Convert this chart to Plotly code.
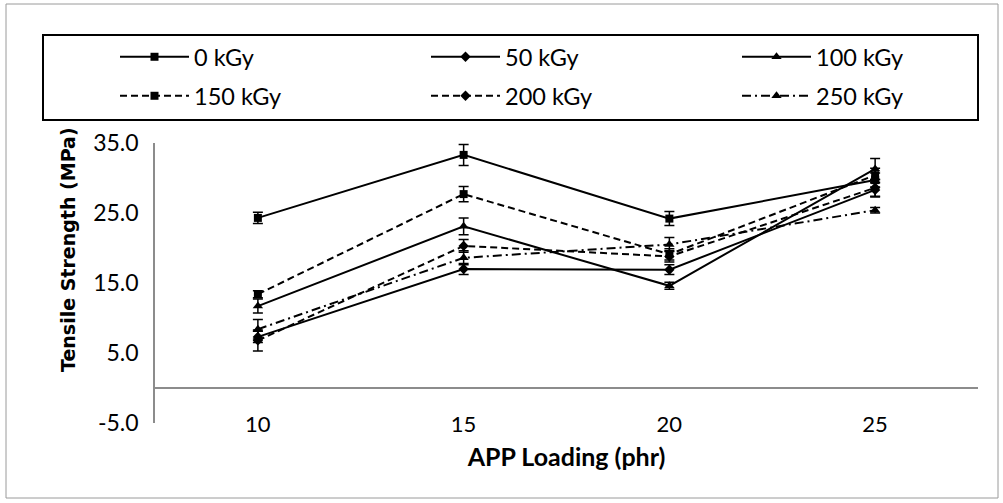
import plotly.graph_objects as go

# ---- data ----
app_loading = [10, 15, 20, 25]
series_names = ["0 kGy", "50 kGy", "100 kGy", "150 kGy", "200 kGy", "250 kGy"]
ts_0 = [24.3, 33.3, 24.2, 29.7]
ts_50 = [7.3, 17.0, 16.9, 28.3]
ts_100 = [11.7, 23.1, 14.6, 31.3]
ts_150 = [13.4, 27.7, 19.1, 30.4]
ts_200 = [6.8, 20.3, 18.8, 28.6]
ts_250 = [8.4, 18.6, 20.5, 25.4]
err_0 = [0.8, 1.5, 1.0, 1.0]
err_50 = [0.8, 0.8, 0.7, 1.0]
err_100 = [1.0, 1.2, 0.5, 1.5]
err_150 = [0.5, 1.1, 0.8, 1.0]
err_200 = [1.5, 0.9, 0.8, 1.2]
err_250 = [1.4, 1.0, 1.0, 0.4]
y_ticks = [-5, 5, 15, 25, 35]

values = [ts_0, ts_50, ts_100, ts_150, ts_200, ts_250]
errors = [err_0, err_50, err_100, err_150, err_200, err_250]
symbols = ["square", "diamond", "triangle-up", "square", "diamond", "triangle-up"]
dashes = ["solid", "solid", "solid", "7px,4px", "7px,4px", "9px,4px,2px,4px"]
msizes = [8, 8, 9, 8, 8, 9]
legend_ids = ["legend", "legend", "legend", "legend2", "legend2", "legend2"]

W, H = 1003, 503
L, R, T, B = 155, 25, 143, 80
pw, ph = W - L - R, H - T - B

def px_x(p):
    return (p - L) / pw

def px_y(p):
    return (H - B - p) / ph

FONT = "Lato, Carlito, Calibri, sans-serif"

fig = go.Figure()
for name, v, e, sym, d, ms, lg in zip(series_names, values, errors, symbols,
                                      dashes, msizes, legend_ids):
    fig.add_trace(go.Scatter(
        x=app_loading, y=v, name=name, mode="lines+markers", legend=lg,
        line=dict(color="black", width=2, dash=d),
        marker=dict(symbol=sym, size=ms, color="black"),
        error_y=dict(type="data", array=e, visible=True, color="black",
                     thickness=1.5, width=5),
    ))

leg_common = dict(
    orientation="h", xanchor="left", yanchor="top",
    borderwidth=0, bgcolor="rgba(0,0,0,0)",
    entrywidth=227, entrywidthmode="pixels", itemwidth=69,
    font=dict(family=FONT, size=23.5, color="black"), traceorder="normal",
)

fig.update_layout(
    width=W, height=H,
    margin=dict(l=L, r=R, t=T, b=B, autoexpand=False),
    paper_bgcolor="white", plot_bgcolor="white",
    font=dict(family=FONT, size=22, color="black"),
    showlegend=True,
    legend=dict(x=px_x(115), y=px_y(35), **leg_common),
    legend2=dict(x=px_x(115), y=px_y(74), **leg_common),
    xaxis=dict(
        range=[7.5, 27.5], tickvals=app_loading, ticktext=[str(v) for v in app_loading],
        showline=False, showgrid=False, zeroline=False, ticks="", automargin=False,
        ticklabelstandoff=-14, tickfont=dict(size=22),
        title=dict(text="<b>APP Loading (phr)</b>", standoff=12,
                   font=dict(family=FONT, size=25)),
    ),
    yaxis=dict(
        range=[-5, 35], tickvals=y_ticks, ticktext=[f"{v:.1f}" for v in y_ticks],
        automargin=False,
        showline=True, linecolor="#8c8c8c", linewidth=1.5,
        showgrid=False, zeroline=True, zerolinecolor="#8c8c8c", zerolinewidth=1.5,
        ticks="", ticklabelstandoff=10, tickfont=dict(size=23),
    ),
)

# y-axis title (Excel places it off-centre, higher than the plot middle)
fig.add_annotation(text="<b>Tensile Strength (MPa)</b>", textangle=-90,
                   xref="paper", yref="paper", x=px_x(68), y=px_y(250),
                   xanchor="center", yanchor="middle", showarrow=False,
                   font=dict(family="DejaVu Sans", size=19, color="black"))

# outer chart border and legend frame
fig.add_shape(type="rect", xref="paper", yref="paper",
              x0=px_x(6), x1=px_x(998), y0=px_y(498), y1=px_y(4),
              line=dict(color="#9a9a9a", width=1), layer="below")
fig.add_shape(type="rect", xref="paper", yref="paper",
              x0=px_x(43), x1=px_x(978), y0=px_y(120), y1=px_y(35),
              line=dict(color="black", width=2), layer="below")

fig.write_html("out.html", config={"displayModeBar": False},
               post_script="document.body.style.margin='0';document.body.style.padding='0';")
